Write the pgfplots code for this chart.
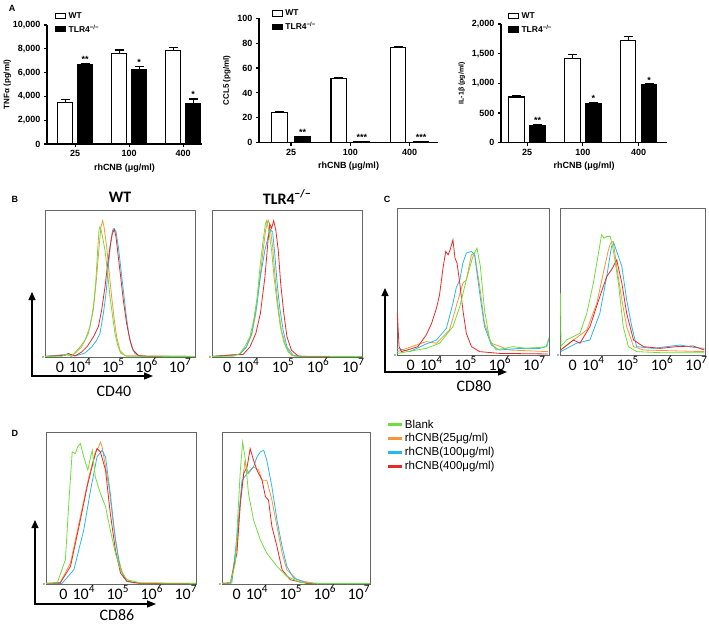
\documentclass[border=0pt]{standalone}
\usepackage{fontspec}
\setmainfont{Liberation Sans}
\newfontfamily\carlito{Carlito}
\usepackage{pgfplots}
\pgfplotsset{compat=1.18}
\usetikzlibrary{arrows.meta}

\definecolor{cgreen}{RGB}{110,222,60}
\definecolor{corange}{RGB}{245,150,60}
\definecolor{cblue}{RGB}{40,185,235}
\definecolor{cred}{RGB}{235,40,40}

\newcommand\fA{\bfseries\fontsize{9}{9}\selectfont}
\newcommand\fF{\carlito\fontsize{16}{16}\selectfont}

\pgfplotsset{
  barA/.style={
    anchor=south west, scale only axis,
    axis x line=bottom, axis y line=left,
    axis line style={-, line width=1.1pt},
    xtick={0,1,2}, xticklabels={25,100,400},
    tick style={black, line width=1.1pt}, tick align=outside, major tick length=3pt,
    ticklabel style={font=\fA},
    /pgf/number format/assume math mode=true, /pgf/number format/1000 sep={,},
    scaled y ticks=false,
    xlabel={rhCNB (μg/ml)},
    xlabel style={font=\fA},
    ylabel style={font=\bfseries\fontsize{8}{8}\selectfont},
    every axis plot/.append style={draw=black, line width=1.1pt},
    error bars/y dir=plus, error bars/y explicit,
    error bars/error bar style={line width=1.1pt},
    error bars/error mark options={rotate=90, mark size=4.5pt, line width=1.1pt},
    legend style={draw=none, fill=none, anchor=north west, inner sep=0pt,
      font=\bfseries\fontsize{8.5}{8.5}\selectfont, row sep=0pt,
      nodes={inner sep=2.6pt}},
    legend cell align=left,
  },
  boxleg/.style={legend image code/.code={\draw[##1] (0pt,-2.6pt) rectangle (10pt,2.6pt);}},
  stars/.style={point meta=explicit symbolic, nodes near coords,
    visualization depends on={value \thisrow{sh}\as\starsh},
    nodes near coords style={font=\fA, anchor=south, inner sep=0pt, yshift=\starsh pt}},
  flow/.style={
    anchor=south west, scale only axis,
    ymin=0, ymax=100,
    axis line style={draw=black!60, line width=0.8pt},
    xtick={3.4,4,5,6,7},
    xticklabels={0,10\textsuperscript{4},10\textsuperscript{5},10\textsuperscript{6},10\textsuperscript{7}},
    xticklabel style={font=\fF, anchor=base, yshift=-15pt},
    major tick length=0pt,
    ytick={0}, yticklabels={0}, yticklabel style={font=\fontsize{3}{3}\selectfont, inner sep=1pt},
    every axis plot/.append style={line width=0.8pt, no markers},
  },
}

\begin{document}
\begin{tikzpicture}
\useasboundingbox (0pt,0pt) rectangle (709pt,-624pt);

% ---------------- panel A ----------------
\node[font=\bfseries\fontsize{9}{9}\selectfont] at (12pt,-8pt) {A};

\begin{axis}[barA, at={(47pt,-144pt)}, width=155pt, height=119pt,
  xmin=-0.52, xmax=2.35, ymin=0, ymax=10000, ytick={0,2000,...,10000},
  bar width=15pt, ybar=5pt, boxleg, ylabel={TNFα (pg/ml)}, ylabel shift=-5pt,
  legend style={at={(0.05,1.13)}}]
\addplot[fill=white] table[x=x,y=y,y error=e]{
x y e
0 3470 280
1 7620 280
2 7820 300
};
\addlegendentry{WT}
\addplot[fill=black, stars] table[x=x,y=y,y error=e,meta=s]{
x y e s sh
0 6700 50 ** 1
1 6280 220 * 3
2 3420 360 * 5
};
\addlegendentry{TLR4\textsuperscript{−/−}}
\end{axis}

\begin{axis}[barA, at={(259pt,-142.7pt)}, width=179pt, height=124.5pt,
  xmin=-0.54, xmax=2.48, ymin=0, ymax=100, ytick={0,20,...,100},
  bar width=15.5pt, ybar=7.5pt, boxleg, ylabel={CCL5 (pg/ml)},
  legend style={at={(0.07,1.09)}}]
\addplot[fill=white] table[x=x,y=y,y error=e]{
x y e
0 24.1 0.6
1 51.7 0.6
2 76.6 0.7
};
\addlegendentry{WT}
\addplot[fill=black, stars] table[x=x,y=y,y error=e,meta=s]{
x y e s sh
0 4.8 0.3 ** 0.5
1 1.0 0.2 *** 0.5
2 0.6 0.2 *** 0.5
};
\addlegendentry{TLR4\textsuperscript{−/−}}
\end{axis}

\begin{axis}[barA, at={(501pt,-142.7pt)}, width=166pt, height=118.7pt,
  xmin=-0.47, xmax=2.51, ymin=0, ymax=2000, ytick={0,500,...,2000},
  bar width=15.5pt, ybar=5.5pt, boxleg, ylabel={IL-1β (pg/ml)},
  ylabel style={font=\bfseries\fontsize{7}{7}\selectfont},
  legend style={at={(0.04,1.12)}}]
\addplot[fill=white] table[x=x,y=y,y error=e]{
x y e
0 770 20
1 1420 65
2 1725 70
};
\addlegendentry{WT}
\addplot[fill=black, stars] table[x=x,y=y,y error=e,meta=s]{
x y e s sh
0 290 15 ** 1
1 660 20 * 1.2
2 975 20 * 1.2
};
\addlegendentry{TLR4\textsuperscript{−/−}}
\end{axis}

% ---------------- panel B ----------------
\node[font=\bfseries\fontsize{9}{9}\selectfont] at (15pt,-199pt) {B};
\node[font=\carlito\bfseries\fontsize{16}{16}\selectfont] at (120pt,-197pt) {WT};
\node[font=\carlito\bfseries\fontsize{16}{16}\selectfont] at (287pt,-197pt) {TLR4\textsuperscript{−/−}};

\begin{axis}[flow, at={(45pt,-357pt)}, width=150pt, height=147pt, xmin=2.95, xmax=7.45]
\addplot[corange] coordinates {(2.95,0.4)(3.6,1.6)(3.75,0.5)(4.05,6.8)(4.25,16)(4.4,32)(4.5,54.5)(4.58,77)(4.63,88.6)(4.68,92.7)(4.72,88.6)(4.8,75)(4.88,56.8)(4.95,41)(5.03,25)(5.1,13.6)(5.2,4.5)(5.35,0.9)(7.45,0.4)};
\addplot[cblue] coordinates {(2.95,0.4)(3.55,1.6)(3.65,2.3)(3.85,0.7)(4.15,2.7)(4.35,6.8)(4.5,11.4)(4.6,16)(4.7,29.5)(4.78,43)(4.85,61.4)(4.92,77.3)(4.98,86.4)(5.02,87.5)(5.08,85.2)(5.15,75)(5.22,61.4)(5.3,45.5)(5.38,29.5)(5.46,16)(5.55,6.8)(5.65,2.3)(5.8,0.5)(7.45,0.4)};
\addplot[cred] coordinates {(2.95,0.4)(3.55,1.1)(3.65,2.3)(3.85,0.7)(4.05,3.4)(4.22,7.3)(4.4,13.6)(4.55,20.5)(4.65,32)(4.75,47.7)(4.82,61.4)(4.9,75)(4.97,84)(5.03,86.8)(5.08,81.8)(5.15,68)(5.22,54.5)(5.3,38.6)(5.4,22.7)(5.5,11.4)(5.6,4.5)(5.75,1.1)(6.0,0.4)(7.45,0.4)};
\addplot[cgreen] coordinates {(2.95,0.4)(3.45,0.5)(3.6,1.8)(3.75,0.5)(4.0,6.8)(4.15,11.4)(4.3,20.5)(4.4,34)(4.47,50)(4.53,72.7)(4.57,86.4)(4.6,88.6)(4.65,85)(4.75,72.7)(4.83,56.8)(4.9,41)(4.98,27.3)(5.05,16)(5.13,8)(5.22,2.7)(5.4,0.5)(7.45,0.4)};
\end{axis}

\begin{axis}[flow, at={(212pt,-357pt)}, width=150pt, height=147pt, xmin=2.97, xmax=7.25]
\addplot[corange] coordinates {(2.97,0.4)(3.76,1.8)(3.95,6.8)(4.1,14.8)(4.22,29.5)(4.33,52.3)(4.43,72.7)(4.5,86.4)(4.57,93.2)(4.62,89.8)(4.7,75)(4.77,54.5)(4.86,34)(4.95,18.2)(5.08,6.8)(5.24,1.1)(5.48,0.4)(7.25,0.4)};
\addplot[cblue] coordinates {(2.97,0.4)(3.76,1.8)(3.95,6.8)(4.1,16)(4.24,34)(4.35,54.5)(4.48,72.7)(4.57,81.8)(4.64,86.4)(4.7,85.2)(4.76,70.5)(4.83,50)(4.9,34)(5.0,18.2)(5.11,6.8)(5.29,1.1)(5.48,0.4)(7.25,0.4)};
\addplot[cred] coordinates {(2.97,0.4)(3.86,1.8)(4.05,6.8)(4.22,16)(4.35,29.5)(4.48,54.5)(4.57,79.5)(4.62,90.5)(4.67,87.5)(4.73,92.7)(4.79,86.4)(4.86,72.7)(4.93,50)(5.02,29.5)(5.11,13.6)(5.24,4.5)(5.43,0.7)(5.67,0.4)(7.25,0.4)};
\addplot[cgreen] coordinates {(2.97,0.4)(3.57,0.5)(3.76,2.3)(3.9,6.8)(4.05,13.6)(4.16,25)(4.26,41)(4.35,63.6)(4.43,79.5)(4.49,89.8)(4.52,92.7)(4.58,87.5)(4.67,72.7)(4.74,54.5)(4.83,36.4)(4.92,20.5)(5.02,10.2)(5.14,3.4)(5.33,0.5)(7.25,0.4)};
\end{axis}

\draw[line width=1.2pt, -{Triangle[length=8pt,width=7pt]}] (32pt,-376pt) -- (32pt,-292pt);
\draw[line width=1.2pt, -{Triangle[length=9pt,width=7pt]}] (31.4pt,-376pt) -- (153pt,-376pt);
\node[font=\fF] at (114pt,-391pt) {CD40};

% ---------------- panel C ----------------
\node[font=\bfseries\fontsize{9}{9}\selectfont] at (387pt,-199pt) {C};

\begin{axis}[flow, at={(397pt,-355pt)}, width=152pt, height=147pt, xmin=3.0, xmax=7.43]
\addplot[corange] coordinates {(3.01,2.3)(3.85,9.1)(4.15,8)(4.53,17)(4.78,37.5)(4.92,48.9)(5.02,51.1)(5.17,68.2)(5.26,69.3)(5.41,46.6)(5.55,21.6)(5.75,8)(6.28,3.4)(7.4,2.3)};
\addplot[cblue] coordinates {(3.01,4.5)(3.37,2.3)(3.85,7.5)(4.15,10.2)(4.44,18.2)(4.63,35.2)(4.73,46.1)(4.83,51.1)(4.92,62.5)(5.02,69.3)(5.17,70.5)(5.26,68.2)(5.41,42)(5.55,19.3)(5.75,6.8)(5.99,3.4)(6.57,4.5)(7.16,4.5)(7.35,5.7)(7.42,10.7)};
\addplot[cred] coordinates {(3.01,28.4)(3.06,5.7)(3.13,2.3)(3.37,3.9)(3.61,5.7)(3.85,13.6)(4.0,21)(4.15,31.8)(4.24,41)(4.34,59)(4.42,70.5)(4.49,68.2)(4.55,71.6)(4.63,78.4)(4.69,65.9)(4.75,62.5)(4.83,48.9)(4.92,30.7)(5.02,14.8)(5.17,5.7)(5.41,2.3)(5.99,1.1)(7.4,0.7)};
\addplot[cgreen] coordinates {(3.01,1.1)(3.85,4.5)(4.24,8)(4.63,19.3)(4.83,33)(5.02,51.1)(5.21,67)(5.33,72.7)(5.43,60.2)(5.55,30.7)(5.7,10.2)(5.89,3.4)(6.38,5.7)(6.77,4.5)(7.16,5.2)(7.37,5.7)(7.42,11.4)};
\end{axis}

\begin{axis}[flow, at={(560pt,-355pt)}, width=145pt, height=147pt, xmin=3.03, xmax=7.25]
\addplot[corange] coordinates {(3.05,3.4)(3.42,10.2)(3.81,17)(4.1,35.2)(4.29,55.7)(4.44,71.6)(4.5,76.1)(4.58,77.3)(4.68,60.2)(4.83,37.5)(4.97,19.3)(5.17,5.7)(5.46,3.4)(7.23,2.3)};
\addplot[cblue] coordinates {(3.05,2.3)(3.51,8)(3.9,10.2)(4.19,28.4)(4.39,53.4)(4.53,73.9)(4.6,76.1)(4.68,70.5)(4.83,60.2)(4.97,37.5)(5.12,19.3)(5.26,5.7)(5.75,4.5)(6.14,5.7)(6.52,6.8)(6.91,5.2)(7.23,4.5)};
\addplot[cred] coordinates {(3.05,3.4)(3.42,10.2)(3.61,8)(3.9,19.3)(4.19,39.8)(4.39,53.4)(4.53,58)(4.68,64.8)(4.83,48.9)(4.97,28.4)(5.17,10.2)(5.46,5.7)(5.94,4.5)(6.43,5.7)(6.91,6.1)(7.23,3.4)};
\addplot[cgreen] coordinates {(3.04,42)(3.06,6)(3.22,10.2)(3.61,14.8)(3.81,28.4)(4.0,48.9)(4.15,69.3)(4.24,81.8)(4.31,79.5)(4.39,80.7)(4.49,80.7)(4.58,71.6)(4.73,48.9)(4.87,19.3)(5.02,5.7)(5.26,2.3)(5.94,1.6)(7.23,1.6)};
\end{axis}

\draw[line width=1.2pt, -{Triangle[length=8pt,width=7pt]}] (385pt,-372pt) -- (385pt,-288pt);
\draw[line width=1.2pt, -{Triangle[length=9pt,width=7pt]}] (384.4pt,-372pt) -- (507pt,-372pt);
\node[font=\fF] at (474pt,-386pt) {CD80};

% ---------------- panel D ----------------
\node[font=\bfseries\fontsize{9}{9}\selectfont] at (15pt,-433pt) {D};

\begin{axis}[flow, at={(46pt,-584pt)}, width=150pt, height=152pt, xmin=2.89, xmax=7.3]
\addplot[corange] coordinates {(2.89,0.4)(3.31,1.1)(3.61,13.8)(3.9,44.3)(4.15,70.5)(4.34,86.9)(4.44,90.2)(4.49,93.4)(4.54,90.2)(4.59,83.6)(4.74,64)(4.88,37.8)(5.03,15.9)(5.18,3.9)(5.47,0.7)(7.3,0.4)};
\addplot[cblue] coordinates {(2.89,0.4)(3.36,0.4)(3.71,9.4)(4.0,35.6)(4.2,61.8)(4.39,83.6)(4.54,88)(4.64,83.6)(4.78,59.6)(4.93,29)(5.08,9.4)(5.27,1.7)(5.67,0.4)(7.3,0.4)};
\addplot[cred] coordinates {(2.89,0.4)(3.31,0.7)(3.61,11.6)(3.9,42.1)(4.1,64)(4.29,81.4)(4.39,89.1)(4.49,86.9)(4.64,74.9)(4.78,46.5)(4.93,22.5)(5.08,7.2)(5.27,1.7)(5.67,0.4)(7.3,0.4)};
\addplot[cgreen] coordinates {(2.89,0.4)(3.22,0.7)(3.46,15.9)(3.56,53)(3.66,86.9)(3.75,85.8)(3.82,90.2)(3.9,92.4)(4.0,83.6)(4.12,74.9)(4.18,81.4)(4.25,88)(4.34,70.5)(4.49,59.6)(4.64,50.9)(4.78,35.6)(4.93,20.3)(5.08,9.4)(5.27,2.8)(5.67,0.7)(7.3,0.4)};
\end{axis}

\begin{axis}[flow, at={(222pt,-584pt)}, width=148pt, height=152pt, xmin=2.97, xmax=7.33,
  legend image code/.code={\draw[#1,line width=2.7pt] (0pt,0pt) -- (14pt,0pt);},
  legend style={at={(1.108,1.095)}, anchor=north west, draw=none, fill=none, inner sep=0pt,
    font=\fontsize{11.5}{11.5}\selectfont, nodes={inner sep=2pt}, row sep=0pt},
  legend cell align=left]
\addlegendimage{cgreen}
\addlegendimage{corange}
\addlegendimage{cblue}
\addlegendimage{cred}
\addplot[corange, forget plot] coordinates {(2.97,0.4)(3.22,0.7)(3.41,24.7)(3.51,53)(3.64,80.3)(3.75,72.7)(3.9,77.1)(4.05,74.9)(4.15,68.3)(4.29,68.3)(4.44,55.2)(4.59,37.8)(4.74,20.3)(4.88,9.4)(5.18,2.8)(5.67,0.4)(7.33,0.4)};
\addplot[cblue, forget plot] coordinates {(2.97,0.4)(3.26,0.7)(3.41,31.2)(3.56,68.3)(3.71,72.7)(3.9,77.1)(4.0,83.6)(4.1,86.9)(4.2,88)(4.29,81.4)(4.44,64)(4.59,42.1)(4.74,24.7)(4.88,11.6)(5.08,3.9)(5.47,0.7)(5.86,0.4)(7.33,0.4)};
\addplot[cred, forget plot] coordinates {(2.97,0.4)(3.22,0.7)(3.41,20.3)(3.51,53)(3.61,72.7)(3.71,77.1)(3.8,89.1)(3.9,81.4)(4.0,74.9)(4.15,68.3)(4.25,57.4)(4.34,55.2)(4.44,37.8)(4.59,24.7)(4.74,9.4)(4.98,2.8)(5.47,0.4)(7.33,0.4)};
\addplot[cgreen, forget plot] coordinates {(2.97,0.4)(3.22,0.7)(3.36,13.8)(3.43,42.1)(3.51,74.9)(3.58,93.4)(3.66,81.4)(3.75,59.6)(3.9,42.1)(4.1,29)(4.29,20.3)(4.59,11.6)(4.88,5)(5.27,1.1)(5.76,0.4)(7.33,0.4)};
\legend{Blank,rhCNB(25μg/ml),rhCNB(100μg/ml),rhCNB(400μg/ml)}
\end{axis}

\draw[line width=1.2pt, -{Triangle[length=8pt,width=7pt]}] (35pt,-604pt) -- (35pt,-520pt);
\draw[line width=1.2pt, -{Triangle[length=9pt,width=7pt]}] (34.4pt,-604pt) -- (156pt,-604pt);
\node[font=\fF] at (117pt,-615pt) {CD86};
\end{tikzpicture}
\end{document}
